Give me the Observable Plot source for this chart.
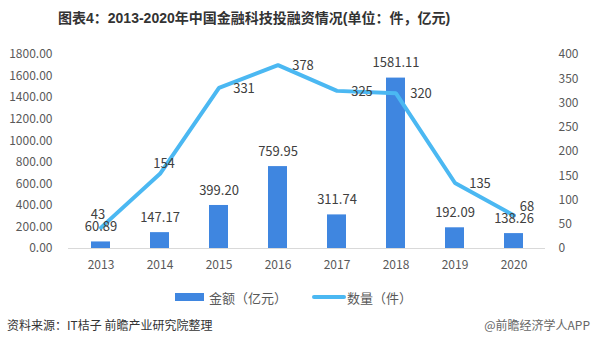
<!DOCTYPE html>
<html><head><meta charset="utf-8">
<script src="https://cdn.jsdelivr.net/npm/d3@7"></script>
<script src="https://cdn.jsdelivr.net/npm/@observablehq/plot@0.6"></script>
<style>
body{margin:0;background:#fff;width:592px;height:353px;overflow:hidden;font-family:"Noto Sans CJK SC","Noto Sans",sans-serif;}
#title{height:36px;line-height:36px;padding-left:58px;font-family:"Liberation Sans","Noto Sans CJK SC",sans-serif;font-weight:bold;font-size:14px;color:#333;white-space:nowrap;}
#legend{height:34px;display:flex;align-items:center;justify-content:flex-start;padding-left:175px;font-size:13px;color:#595959;}
.sw{display:inline-block;margin-right:5px;}
#cap{position:relative;height:30px;font-size:12px;color:#333;}
#cap .l{position:absolute;left:7px;top:2px;}
#cap .r{position:absolute;right:2px;top:2px;color:#666;}
</style></head>
<body>
<div id="title">图表4：2013-2020年中国金融科技投融资情况(单位：件，亿元)</div>
<div id="chart"></div>
<div id="legend"><span class="sw" style="width:29px;height:8px;background:#3F86E0"></span><span style="margin-right:25px">金额（亿元）</span><span class="sw" style="width:34px;height:4px;background:#4BB8F2;border-radius:2px;margin-right:1px"></span><span>数量（件）</span></div>
<div id="cap"><span class="l">资料来源：IT桔子 前瞻产业研究院整理</span><span class="r">@前瞻经济学人APP</span></div>
<script>
const years = ["2013","2014","2015","2016","2017","2018","2019","2020"];
const amounts = [60.89,147.17,399.20,759.95,311.74,1581.11,192.09,138.26];
const counts = [43,154,331,378,325,320,135,68];
const leftTicks = [0,200,400,600,800,1000,1200,1400,1600,1800];
const rightTicks = [0,50,100,150,200,250,300,350,400];

const ratio = 1800/400;
const data = years.map((y,i)=>({year:y, amount:amounts[i], count:counts[i], countScaled:counts[i]*ratio}));
const labelCol = "#404040";
const right = new Set(["2015","2016","2017","2018","2019"]);

const chart = Plot.plot({
  width:592, height:244,
  marginTop:18, marginBottom:32, marginLeft:68, marginRight:47,
  style:{fontFamily:'"Noto Sans CJK SC","Noto Sans",sans-serif', fontSize:"12px", color:"#595959", background:"#fff"},
  x:{domain:years, paddingInner:0.68, paddingOuter:0.34, label:null},
  y:{domain:[0,1800], label:null},
  marks:[
    Plot.axisY({anchor:"left", ticks:leftTicks, tickSize:0, tickPadding:16, tickFormat:d=>d.toFixed(2), label:null, fontSize:12}),
    Plot.axisY({anchor:"right", ticks:rightTicks.map(v=>v*ratio), tickSize:0, tickPadding:13, tickFormat:d=>String(Math.round(d/ratio)), label:null, fontSize:12}),
    Plot.axisX({anchor:"bottom", tickSize:0, tickPadding:12, label:null, fontSize:12}),
    Plot.ruleY([0],{stroke:"#d9d9d9", strokeWidth:1}),
    Plot.barY(data,{x:"year", y:"amount", fill:"#3F86E0"}),
    Plot.line(data,{x:"year", y:"countScaled", stroke:"#4BB8F2", strokeWidth:4, strokeLinejoin:"miter"}),
    Plot.text(data,{x:"year", y:"amount", text:d=>d.amount.toFixed(2), dy:-15, fill:labelCol, fontSize:13}),
    Plot.text(data.filter(d=>right.has(d.year)),{x:"year", y:"countScaled", text:d=>String(d.count), dx:25, dy:1, fill:labelCol, fontSize:13}),
    Plot.text(data.filter(d=>d.year==="2013"),{x:"year", y:"countScaled", text:d=>String(d.count), dx:-3, dy:-13, fill:labelCol, fontSize:13}),
    Plot.text(data.filter(d=>d.year==="2014"),{x:"year", y:"countScaled", text:d=>String(d.count), dx:4, dy:-10, fill:labelCol, fontSize:13}),
    Plot.text(data.filter(d=>d.year==="2020"),{x:"year", y:"countScaled", text:d=>String(d.count), dx:13, dy:-9, fill:labelCol, fontSize:13})
  ]
});
document.getElementById("chart").appendChild(chart);
</script>
</body></html>
